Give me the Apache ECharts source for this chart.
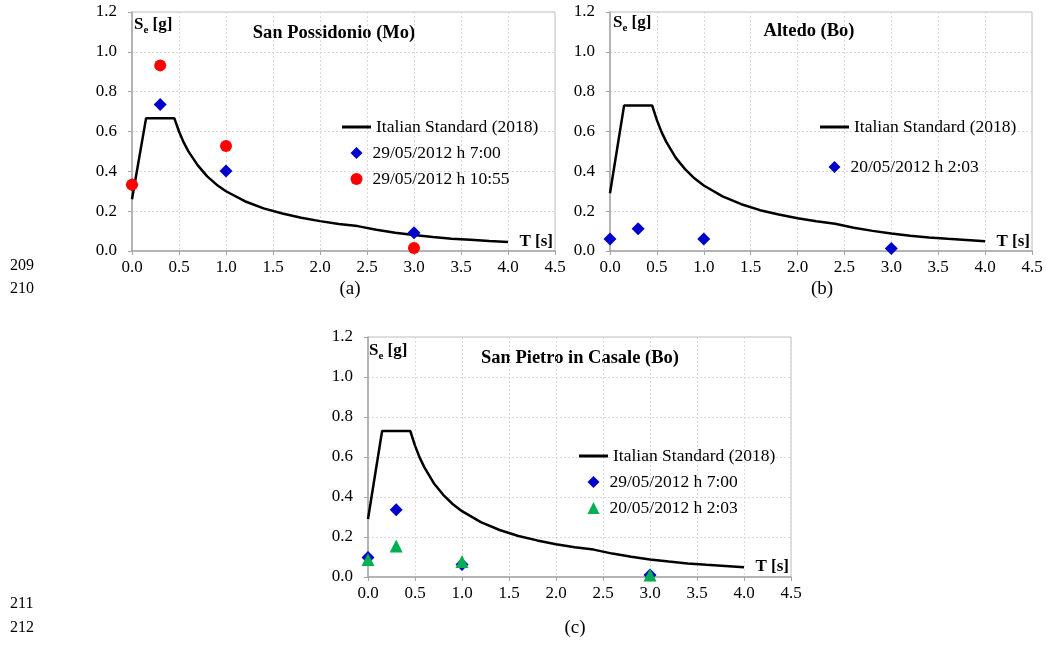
<!DOCTYPE html>
<html lang="en" style="height: 100%">
<head>
  <meta charset="utf-8">
</head>
<body style="height: 100%; margin: 0; background: #fff">
  <div id="container" style="width: 1046px; height: 650px"></div>
  <script type="text/javascript" src="https://cdn.jsdelivr.net/npm/echarts@6/dist/echarts.min.js"></script>
  <script type="text/javascript">
    // spectrum periods T [s] and Se [g] values
    var periodT = [0, 0.15, 0.45, 0.5, 0.55, 0.6, 0.7, 0.8, 0.9, 1.0, 1.2, 1.4, 1.6, 1.8, 2.0, 2.2, 2.4, 2.6, 2.8, 3.0, 3.2, 3.4, 3.6, 3.8, 4.0];
    var specPossidonio = [0.26, 0.667, 0.667, 0.60, 0.545, 0.50, 0.43, 0.375, 0.333, 0.30, 0.25, 0.214, 0.188, 0.167, 0.15, 0.136, 0.125, 0.107, 0.092, 0.080, 0.070, 0.062, 0.056, 0.050, 0.045];
    var specBologna = [0.29, 0.73, 0.73, 0.657, 0.597, 0.548, 0.469, 0.411, 0.365, 0.329, 0.274, 0.235, 0.205, 0.183, 0.164, 0.149, 0.137, 0.117, 0.101, 0.088, 0.077, 0.068, 0.061, 0.055, 0.049];

    // recorded spectral values
    var recT = [0, 0.3, 1.0, 3.0];
    var possidonio0700 = [0.333, 0.735, 0.402, 0.092];
    var possidonio1055 = [0.333, 0.932, 0.527, 0.015];
    var altedo0203 = [0.060, 0.112, 0.060, 0.012];
    var pietro0700 = [0.097, 0.336, 0.063, 0.010];
    var pietro0203 = [0.088, 0.155, 0.077, 0.010];

    var xTicks = [0, 0.5, 1.0, 1.5, 2.0, 2.5, 3.0, 3.5, 4.0, 4.5];
    var yTicks = [0, 0.2, 0.4, 0.6, 0.8, 1.0, 1.2];

    var nameStd = 'Italian Standard (2018)';
    var name0700 = '29/05/2012 h 7:00';
    var name1055 = '29/05/2012 h 10:55';
    var name0203 = '20/05/2012 h 2:03';

    var serif = '"Liberation Serif", "Times New Roman", serif';
    var blue = '#0000CC', red = '#FF0000', green = '#00B050';

    function pairs(xs, ys) {
      return xs.map(function (x, i) { return [x, ys[i]]; });
    }

    function xAxisFor(idx) {
      return {
        gridIndex: idx, type: 'value', min: xTicks[0], max: xTicks[xTicks.length - 1], interval: 0.5,
        axisLine: { show: true, onZero: false, lineStyle: { color: '#A6A6A6', width: 1.5 } },
        axisTick: { show: true, inside: false, length: 4, lineStyle: { color: '#A6A6A6' } },
        axisLabel: { margin: 8, color: '#000', fontFamily: serif, fontSize: 17, formatter: function (v) { return v.toFixed(1); } },
        splitLine: { show: true, lineStyle: { color: '#D9D9D9', type: [2, 2] } }
      };
    }
    function yAxisFor(idx) {
      return {
        gridIndex: idx, type: 'value', min: yTicks[0], max: yTicks[yTicks.length - 1], interval: 0.2,
        axisLine: { show: true, onZero: false, lineStyle: { color: '#A6A6A6', width: 1.5 } },
        axisTick: { show: true, inside: false, length: 4, lineStyle: { color: '#A6A6A6' } },
        axisLabel: { margin: 15, color: '#000', fontFamily: serif, fontSize: 17, formatter: function (v) { return v.toFixed(1); } },
        splitLine: { show: true, lineStyle: { color: '#D9D9D9', type: [2, 2] } }
      };
    }

    function stdLine(idx, vals) {
      return {
        name: nameStd, type: 'line', xAxisIndex: idx, yAxisIndex: idx,
        data: pairs(periodT, vals), showSymbol: false, symbol: 'none', smooth: false,
        lineStyle: { color: '#000', width: 2.5 }, itemStyle: { color: '#000' }, z: 2
      };
    }
    function rec(idx, name, vals, symbol, color, size, z) {
      return {
        name: name, type: 'scatter', xAxisIndex: idx, yAxisIndex: idx,
        data: pairs(recT, vals), symbol: symbol, symbolSize: size,
        itemStyle: { color: color, opacity: 1 }, z: z
      };
    }

    var legendText = { fontFamily: serif, fontSize: 17.5, color: '#000', lineHeight: 18 };
    function lineLegend(left, top) {
      return {
        orient: 'vertical', left: left, top: top, itemWidth: 29, itemHeight: 3,
        selectedMode: false, padding: 0, textStyle: legendText,
        data: [{ name: nameStd, icon: 'rect', itemStyle: { color: '#000' } }]
      };
    }
    function markLegend(left, top, gap, items) {
      return {
        orient: 'vertical', left: left, top: top, itemGap: gap, itemWidth: 12, itemHeight: 12,
        selectedMode: false, padding: 0,
        textStyle: Object.assign({ padding: [0, 0, 0, 5] }, legendText),
        data: items
      };
    }

    function seLabel(x, y) {
      return {
        type: 'text', left: x, top: y,
        style: {
          text: '{s|S}{e|e}{s| [g]}',
          rich: {
            s: { fontFamily: serif, fontSize: 17, fontWeight: 'bold', fill: '#000', verticalAlign: 'bottom' },
            e: { fontFamily: serif, fontSize: 11, fontWeight: 'bold', fill: '#000', verticalAlign: 'bottom', padding: [0, 0, -3, 0] }
          }
        }
      };
    }
    function plainText(x, y, str, size, bold, align) {
      return {
        type: 'text', x: x, y: y,
        style: { text: str, fontFamily: serif, fontSize: size, fontWeight: bold ? 'bold' : 'normal', fill: '#000', align: align || 'left', verticalAlign: 'middle' }
      };
    }

    var dom = document.getElementById('container');
    var myChart = echarts.init(dom, null, { renderer: 'canvas' });

    var gridBorder = { show: true, borderColor: '#BFBFBF', borderWidth: 1, backgroundColor: 'transparent' };

    var option = {
      backgroundColor: '#fff',
      animation: false,
      grid: [
        Object.assign({ left: 132, top: 12, width: 423, height: 239 }, gridBorder),
        Object.assign({ left: 610, top: 12, width: 422, height: 239 }, gridBorder),
        Object.assign({ left: 368, top: 337, width: 423, height: 240 }, gridBorder)
      ],
      xAxis: [xAxisFor(0), xAxisFor(1), xAxisFor(2)],
      yAxis: [yAxisFor(0), yAxisFor(1), yAxisFor(2)],
      legend: [
        lineLegend(342, 118),
        markLegend(350.5, 144, 8, [
          { name: name0700, icon: 'diamond', itemStyle: { color: blue } },
          { name: name1055, icon: 'circle', itemStyle: { color: red } }
        ]),
        lineLegend(820, 118),
        markLegend(828.5, 158, 8, [
          { name: name0203, icon: 'diamond', itemStyle: { color: blue } }
        ]),
        lineLegend(579, 447),
        markLegend(587.5, 473, 8, [
          { name: name0700, icon: 'diamond', itemStyle: { color: blue } },
          { name: name0203, icon: 'triangle', itemStyle: { color: green } }
        ])
      ],
      series: [
        stdLine(0, specPossidonio),
        rec(0, name0700, possidonio0700, 'diamond', blue, 13, 3),
        rec(0, name1055, possidonio1055, 'circle', red, 12, 4),
        stdLine(1, specBologna),
        rec(1, name0203, altedo0203, 'diamond', blue, 13, 3),
        stdLine(2, specBologna),
        rec(2, name0700, pietro0700, 'diamond', blue, 13, 3),
        rec(2, name0203, pietro0203, 'triangle', green, 13, 4)
      ],
      graphic: [
        seLabel(134, 16), seLabel(613, 14), seLabel(369, 342),
        plainText(334, 33, 'San Possidonio (Mo)', 18.5, true, 'center'),
        plainText(809, 31, 'Altedo (Bo)', 18.5, true, 'center'),
        plainText(580, 358, 'San Pietro in Casale (Bo)', 18.5, true, 'center'),
        plainText(553, 242, 'T [s]', 17, true, 'right'),
        plainText(1030, 242, 'T [s]', 17, true, 'right'),
        plainText(789, 567, 'T [s]', 17, true, 'right'),
        plainText(10, 266, '209', 16, false, 'left'),
        plainText(10, 289, '210', 16, false, 'left'),
        plainText(10, 604, '211', 16, false, 'left'),
        plainText(10, 628, '212', 16, false, 'left'),
        plainText(350, 289, '(a)', 19, false, 'center'),
        plainText(822, 289, '(b)', 19, false, 'center'),
        plainText(575, 628, '(c)', 19, false, 'center')
      ]
    };

    if (option && typeof option === 'object') {
      myChart.setOption(option);
    }
    window.addEventListener('resize', myChart.resize);
  </script>
</body>
</html>
